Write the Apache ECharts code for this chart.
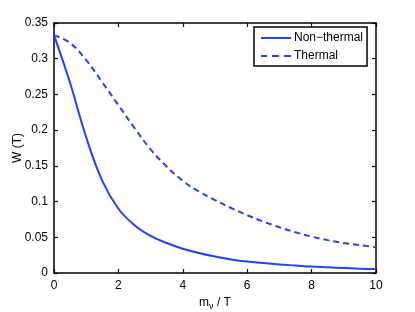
<!DOCTYPE html>
<html>
<head>
<meta charset="utf-8">
<script src="https://cdn.jsdelivr.net/npm/echarts@6/dist/echarts.min.js"></script>
<style>
html,body{margin:0;padding:0;background:#fff;}
#chart{width:415px;height:312px;}
</style>
</head>
<body>
<div id="chart"></div>
<script>
var xNon = [0, 0.5, 1.0, 1.5, 2.0, 2.5, 3.0, 3.5, 4.0, 4.5, 5.0, 5.5, 6.0, 6.5, 7.0, 7.5, 8.0, 8.5, 9.0, 9.5, 10];
var yNon = [0.333, 0.266, 0.190, 0.129, 0.090, 0.067, 0.052, 0.042, 0.034, 0.028, 0.023, 0.019, 0.016, 0.014, 0.012, 0.0105, 0.009, 0.008, 0.007, 0.006, 0.0055];
var xTh = [0, 0.5, 1.0, 1.5, 2.0, 2.5, 3.0, 3.5, 4.0, 4.5, 5.0, 5.5, 6.0, 6.5, 7.0, 7.5, 8.0, 8.5, 9.0, 9.5, 10];
var yTh = [0.333, 0.322, 0.298, 0.267, 0.235, 0.203, 0.173, 0.149, 0.129, 0.114, 0.102, 0.091, 0.081, 0.072, 0.064, 0.057, 0.051, 0.046, 0.042, 0.039, 0.036];
var xTicks = [0, 2, 4, 6, 8, 10];
var yTicks = [0, 0.05, 0.1, 0.15, 0.2, 0.25, 0.3, 0.35];
var seriesNames = ['Non\u2212thermal', 'Thermal'];

function pairs(xs, ys) { return xs.map(function (x, i) { return [x, ys[i]]; }); }

var blue = '#2040ff';
var font = 'Liberation Sans, Arial, sans-serif';
var axisLine = { show: true, onZero: false, lineStyle: { color: '#000', width: 1.5 } };
var tick = { show: true, inside: true, length: 4, lineStyle: { color: '#000', width: 1.2 } };
var solidIcon = 'path://M0,0H30V2H0Z';
var dashIcon = 'path://M0,0H6V2H0Z M11,0H18V2H11Z M23,0H30V2H23Z';

var chart = echarts.init(document.getElementById('chart'), null, { renderer: 'canvas' });
chart.setOption({
  animation: false,
  backgroundColor: '#fff',
  grid: { left: 54, right: 39, top: 23, bottom: 39, containLabel: false, outerBoundsMode: 'none' },
  legend: {
    data: [{ name: seriesNames[0], icon: solidIcon }, { name: seriesNames[1], icon: dashIcon }],
    left: 254, top: 27,
    orient: 'vertical',
    itemWidth: 30, itemHeight: 2, itemGap: 6,
    padding: [5, 4, 4, 7],
    borderColor: '#000', borderWidth: 1.5,
    backgroundColor: '#fff',
    textStyle: { fontFamily: font, fontSize: 12, color: '#000', padding: [0, 0, 0, -2] }
  },
  xAxis: [{
    type: 'value', min: 0, max: 10, interval: 2,
    name: 'm{sub|\u03bd} / T', nameLocation: 'middle', nameGap: 20,
    nameTextStyle: { fontFamily: font, fontSize: 12, color: '#000',
      rich: { sub: { fontFamily: font, fontSize: 9, verticalAlign: 'bottom', padding: [8, 0, 0, 0] } } },
    axisLine: axisLine, axisTick: tick, splitLine: { show: false },
    axisLabel: { fontFamily: font, fontSize: 12, color: '#000', margin: 7 }
  }, {
    type: 'value', min: 0, max: 10, interval: 2, position: 'top',
    axisLine: axisLine, axisTick: tick, splitLine: { show: false },
    axisLabel: { show: false }
  }],
  yAxis: [{
    type: 'value', min: 0, max: 0.35, interval: 0.05,
    name: 'W (T)', nameLocation: 'middle', nameGap: 30, nameRotate: 90, nameMoveOverlap: false,
    nameTextStyle: { fontFamily: font, fontSize: 12, color: '#000' },
    axisLine: axisLine, axisTick: tick, splitLine: { show: false },
    axisLabel: { fontFamily: font, fontSize: 12, color: '#000', margin: 6,
      formatter: function (v) { return String(parseFloat(v.toFixed(2))); } }
  }, {
    type: 'value', min: 0, max: 0.35, interval: 0.05, position: 'right',
    axisLine: axisLine, axisTick: tick, splitLine: { show: false },
    axisLabel: { show: false }
  }],
  series: [{
    name: seriesNames[0], type: 'line', smooth: 0.4, symbol: 'none',
    data: pairs(xNon, yNon),
    lineStyle: { color: blue, width: 2 }, itemStyle: { color: blue }
  }, {
    name: seriesNames[1], type: 'line', smooth: 0.4, symbol: 'none',
    data: pairs(xTh, yTh),
    lineStyle: { color: blue, width: 2, type: [6, 4] }, itemStyle: { color: blue }
  }]
});
</script>
</body>
</html>
